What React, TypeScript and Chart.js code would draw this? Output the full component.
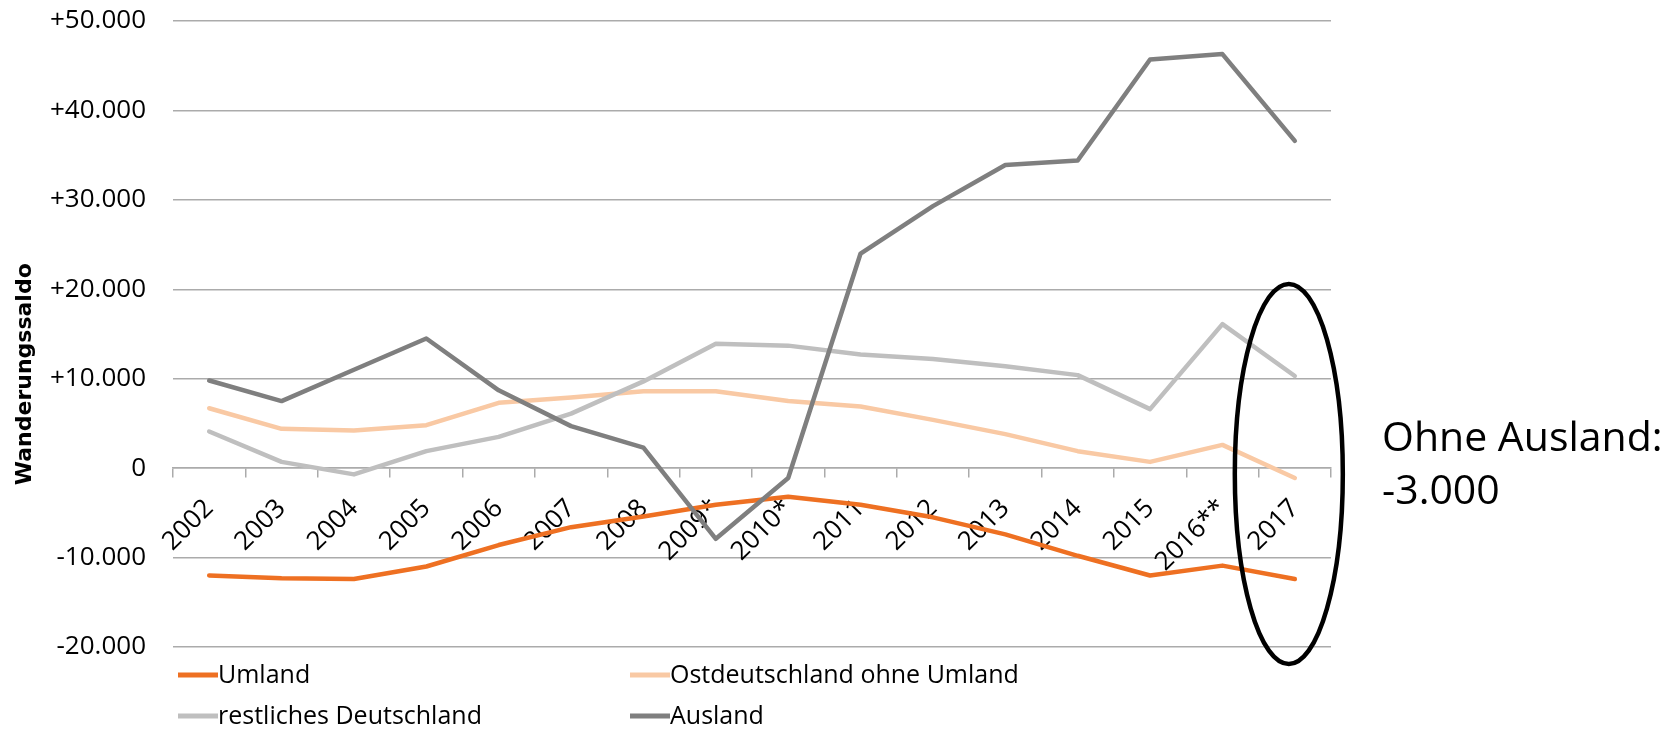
import React, { useEffect, useRef } from "react";
import { Chart, registerables } from "chart.js";

Chart.register(...registerables);

const categories = ["2002", "2003", "2004", "2005", "2006", "2007", "2008", "2009*", "2010*", "2011", "2012", "2013", "2014", "2015", "2016**", "2017"];
const umland = [-12000, -12300, -12400, -11000, -8600, -6600, -5400, -4100, -3200, -4100, -5500, -7400, -9800, -12000, -10900, -12400];
const ostdeutschland = [6700, 4400, 4200, 4800, 7300, 7900, 8600, 8600, 7500, 6900, 5400, 3800, 1900, 700, 2600, -1100];
const restlichesDeutschland = [4100, 700, -700, 1900, 3500, 6100, 9700, 13900, 13700, 12700, 12200, 11400, 10400, 6600, 16100, 10300];
const ausland = [9800, 7500, 11000, 14500, 8700, 4700, 2300, -7900, -1100, 24000, 29300, 33900, 34400, 45700, 46300, 36600];
const yMin = -20000;
const yMax = 50000;
const yStep = 10000;
const seriesNames = ["Umland", "Ostdeutschland ohne Umland", "restliches Deutschland", "Ausland"];
const seriesColors = ["#EE7022", "#F9C9A4", "#BFBFBF", "#7F7F7F"];
const yTitle = "Wanderungssaldo";
const noteLines = ["Ohne Ausland:", "-3.000"];

const FONT = "'Open Sans', 'Noto Sans', sans-serif";
const TITLE_FONT = "'DejaVu Sans', sans-serif";
const GRID = "#ABABAB";

function fmt(v: number): string {
  const a = Math.abs(v).toString().replace(/\B(?=(\d{3})+(?!\d))/g, ".");
  if (v > 0) return "+" + a;
  if (v < 0) return "-" + a;
  return "0";
}

const decorPlugin = {
  id: "decor",
  afterDraw(chart: any) {
    const ctx = chart.ctx as CanvasRenderingContext2D;
    const area = chart.chartArea;
    const xs = chart.scales.x;
    const ys = chart.scales.y;
    ctx.save();

    // y-axis title
    ctx.save();
    ctx.translate(25, ys.getPixelForValue(10500));
    ctx.rotate(-Math.PI / 2);
    ctx.font = `bold 22px ${TITLE_FONT}`;
    ctx.fillStyle = "#000";
    ctx.textAlign = "center";
    ctx.textBaseline = "middle";
    ctx.fillText(yTitle, 0, 0);
    ctx.restore();

    // legend (2 columns x 2 rows)
    const colX = [area.left + 5, area.left + 457];
    const rowY = [area.bottom + 28, area.bottom + 69];
    ctx.font = `25px ${FONT}`;
    ctx.textBaseline = "middle";
    ctx.textAlign = "left";
    seriesNames.forEach((name, i) => {
      const cx = colX[i % 2];
      const cy = rowY[Math.floor(i / 2)];
      ctx.strokeStyle = seriesColors[i];
      ctx.lineWidth = 5;
      ctx.lineCap = "butt";
      ctx.beginPath();
      ctx.moveTo(cx, cy);
      ctx.lineTo(cx + 40, cy);
      ctx.stroke();
      ctx.fillStyle = "#000";
      ctx.fillText(name, cx + 40, cy + 1);
    });

    // ellipse around last category
    const last = xs.getPixelForValue(categories.length - 1);
    const top = ys.getPixelForValue(20600);
    const bottom = ys.getPixelForValue(-21900);
    ctx.strokeStyle = "#000";
    ctx.lineWidth = 4.5;
    ctx.beginPath();
    ctx.ellipse(last - 6, (top + bottom) / 2, 54, (bottom - top) / 2, 0, 0, Math.PI * 2);
    ctx.stroke();

    // note text
    ctx.font = `41px ${FONT}`;
    ctx.fillStyle = "#000";
    ctx.textAlign = "left";
    ctx.textBaseline = "alphabetic";
    const zeroY = ys.getPixelForValue(0);
    ctx.fillText(noteLines[0], area.right + 51, zeroY - 17);
    ctx.fillText(noteLines[1], area.right + 51, zeroY + 36);

    ctx.restore();
  },
};

export default function App() {
  const ref = useRef<HTMLCanvasElement | null>(null);

  useEffect(() => {
    document.body.style.margin = "0";
    const canvas = ref.current;
    if (!canvas) return;
    const data = [umland, ostdeutschland, restlichesDeutschland, ausland];
    const chart = new Chart(canvas, {
      type: "line",
      data: {
        labels: categories,
        datasets: seriesNames.map((name, i) => ({
          label: name,
          data: data[i],
          borderColor: seriesColors[i],
          backgroundColor: seriesColors[i],
          borderWidth: 4.5,
          pointRadius: 0,
          tension: 0,
          fill: false,
          borderJoinStyle: "round" as const,
          borderCapStyle: "round" as const,
          order: seriesNames.length - i,
        })),
      },
      options: {
        responsive: false,
        animation: false,
        events: [],
        layout: { padding: { top: 21, right: 345, bottom: 82, left: 0 } },
        plugins: {
          legend: { display: false },
          tooltip: { enabled: false },
          title: { display: false },
        },
        scales: {
          x: {
            type: "category",
            position: { y: 0 } as any,
            offset: true,
            grid: {
              drawOnChartArea: false,
              drawTicks: true,
              tickLength: 9,
              offset: true,
              color: GRID,
              lineWidth: 1.5,
            },
            border: { display: true, color: GRID, width: 1.5 },
            ticks: {
              autoSkip: false,
              minRotation: 45,
              maxRotation: 45,
              padding: 16,
              color: "#000",
              font: { family: FONT, size: 26 },
            },
          },
          y: {
            type: "linear",
            min: yMin,
            max: yMax,
            afterFit: (scale: any) => {
              scale.width = 173;
            },
            grid: {
              color: GRID,
              lineWidth: 1.5,
              drawTicks: true,
              tickLength: 27,
              tickColor: "rgba(0,0,0,0)",
            },
            border: { display: false },
            ticks: {
              stepSize: yStep,
              padding: 0,
              color: "#000",
              font: { family: FONT, size: 26 },
              callback: (v: any) => fmt(Number(v)),
            },
          },
        },
      },
      plugins: [decorPlugin],
    });
    return () => chart.destroy();
  }, []);

  return (
    <div style={{ width: 1676, height: 729, background: "#fff" }}>
      <canvas ref={ref} width={1676} height={729} style={{ display: "block" }} />
    </div>
  );
}
